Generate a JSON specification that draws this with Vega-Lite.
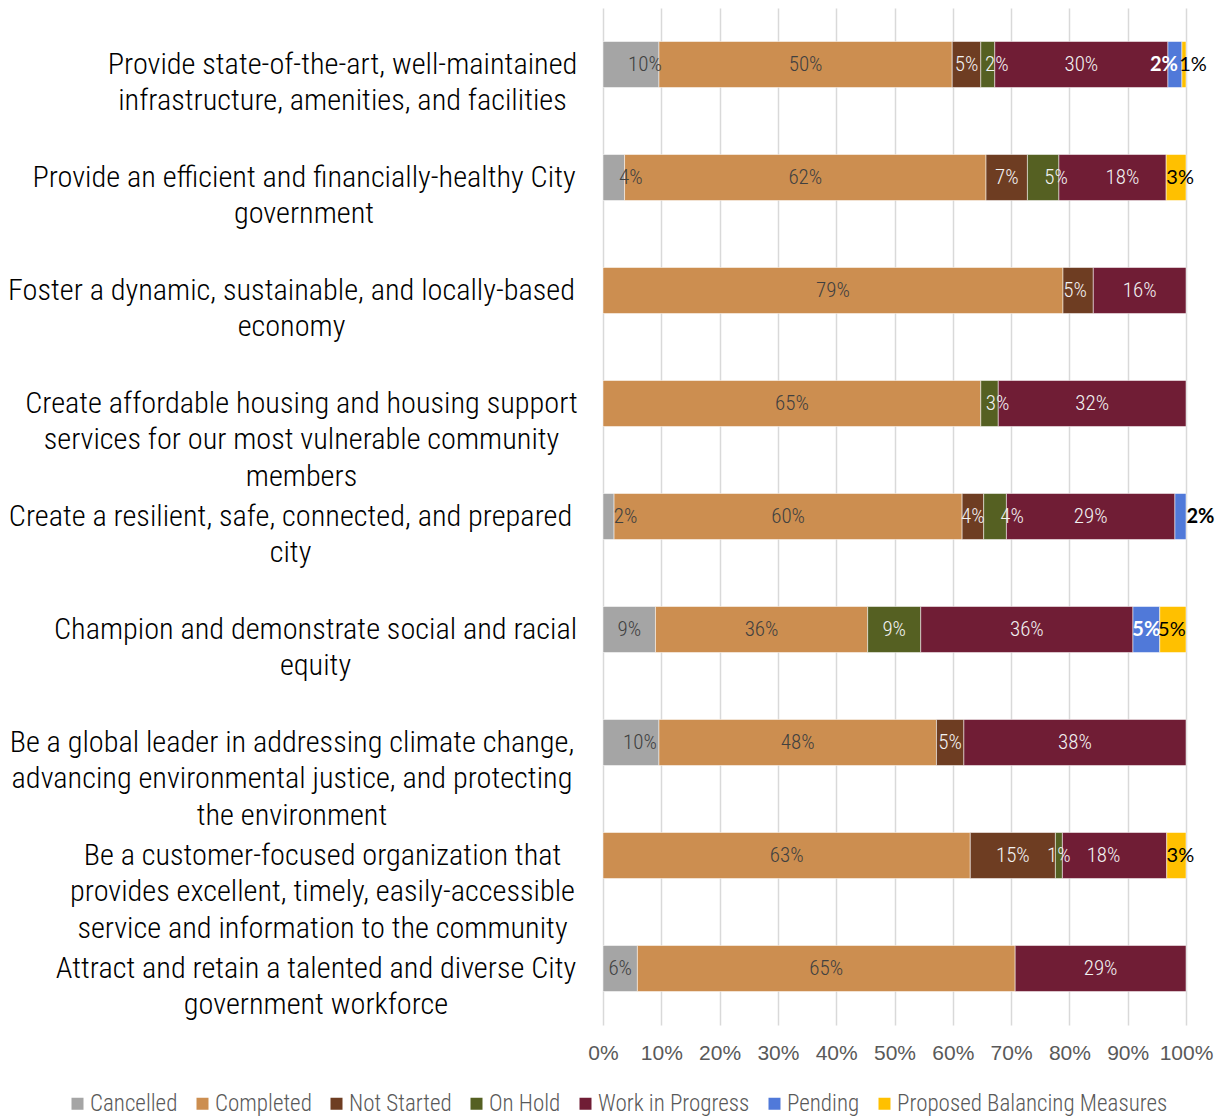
{
  "$schema": "https://vega.github.io/schema/vega-lite/v6.json",
  "width": 583,
  "height": 1017,
  "autosize": {"type": "none"},
  "padding": {"left": 603, "top": 8, "right": 40, "bottom": 93},
  "background": "white",
  "config": {"view": {"stroke": null}, "font": "Roboto Condensed"},
  "data": {
    "values": [
      {"goal": "Provide state-of-the-art, well-maintained\ninfrastructure, amenities, and facilities", "status": "Cancelled", "share": 0.096},
      {"goal": "Provide state-of-the-art, well-maintained\ninfrastructure, amenities, and facilities", "status": "Completed", "share": 0.503},
      {"goal": "Provide state-of-the-art, well-maintained\ninfrastructure, amenities, and facilities", "status": "Not Started", "share": 0.049},
      {"goal": "Provide state-of-the-art, well-maintained\ninfrastructure, amenities, and facilities", "status": "On Hold", "share": 0.024},
      {"goal": "Provide state-of-the-art, well-maintained\ninfrastructure, amenities, and facilities", "status": "Work in Progress", "share": 0.297},
      {"goal": "Provide state-of-the-art, well-maintained\ninfrastructure, amenities, and facilities", "status": "Pending", "share": 0.024},
      {"goal": "Provide state-of-the-art, well-maintained\ninfrastructure, amenities, and facilities", "status": "Proposed Balancing Measures", "share": 0.007},
      {"goal": "Provide an efficient and financially-healthy City\ngovernment", "status": "Cancelled", "share": 0.037},
      {"goal": "Provide an efficient and financially-healthy City\ngovernment", "status": "Completed", "share": 0.620},
      {"goal": "Provide an efficient and financially-healthy City\ngovernment", "status": "Not Started", "share": 0.071},
      {"goal": "Provide an efficient and financially-healthy City\ngovernment", "status": "On Hold", "share": 0.054},
      {"goal": "Provide an efficient and financially-healthy City\ngovernment", "status": "Work in Progress", "share": 0.184},
      {"goal": "Provide an efficient and financially-healthy City\ngovernment", "status": "Proposed Balancing Measures", "share": 0.034},
      {"goal": "Foster a dynamic, sustainable, and locally-based\neconomy", "status": "Completed", "share": 0.789},
      {"goal": "Foster a dynamic, sustainable, and locally-based\neconomy", "status": "Not Started", "share": 0.052},
      {"goal": "Foster a dynamic, sustainable, and locally-based\neconomy", "status": "Work in Progress", "share": 0.159},
      {"goal": "Create affordable housing and housing support\nservices for our most vulnerable community\nmembers", "status": "Completed", "share": 0.648},
      {"goal": "Create affordable housing and housing support\nservices for our most vulnerable community\nmembers", "status": "On Hold", "share": 0.030},
      {"goal": "Create affordable housing and housing support\nservices for our most vulnerable community\nmembers", "status": "Work in Progress", "share": 0.322},
      {"goal": "Create a resilient, safe, connected, and prepared\ncity", "status": "Cancelled", "share": 0.019},
      {"goal": "Create a resilient, safe, connected, and prepared\ncity", "status": "Completed", "share": 0.597},
      {"goal": "Create a resilient, safe, connected, and prepared\ncity", "status": "Not Started", "share": 0.037},
      {"goal": "Create a resilient, safe, connected, and prepared\ncity", "status": "On Hold", "share": 0.039},
      {"goal": "Create a resilient, safe, connected, and prepared\ncity", "status": "Work in Progress", "share": 0.289},
      {"goal": "Create a resilient, safe, connected, and prepared\ncity", "status": "Pending", "share": 0.019},
      {"goal": "Champion and demonstrate social and racial\nequity", "status": "Cancelled", "share": 0.090},
      {"goal": "Champion and demonstrate social and racial\nequity", "status": "Completed", "share": 0.364},
      {"goal": "Champion and demonstrate social and racial\nequity", "status": "On Hold", "share": 0.091},
      {"goal": "Champion and demonstrate social and racial\nequity", "status": "Work in Progress", "share": 0.364},
      {"goal": "Champion and demonstrate social and racial\nequity", "status": "Pending", "share": 0.046},
      {"goal": "Champion and demonstrate social and racial\nequity", "status": "Proposed Balancing Measures", "share": 0.045},
      {"goal": "Be a global leader in addressing climate change,\nadvancing environmental justice, and protecting\nthe environment", "status": "Cancelled", "share": 0.096},
      {"goal": "Be a global leader in addressing climate change,\nadvancing environmental justice, and protecting\nthe environment", "status": "Completed", "share": 0.476},
      {"goal": "Be a global leader in addressing climate change,\nadvancing environmental justice, and protecting\nthe environment", "status": "Not Started", "share": 0.047},
      {"goal": "Be a global leader in addressing climate change,\nadvancing environmental justice, and protecting\nthe environment", "status": "Work in Progress", "share": 0.381},
      {"goal": "Be a customer-focused organization that\nprovides excellent, timely, easily-accessible\nservice and information to the community", "status": "Completed", "share": 0.630},
      {"goal": "Be a customer-focused organization that\nprovides excellent, timely, easily-accessible\nservice and information to the community", "status": "Not Started", "share": 0.146},
      {"goal": "Be a customer-focused organization that\nprovides excellent, timely, easily-accessible\nservice and information to the community", "status": "On Hold", "share": 0.012},
      {"goal": "Be a customer-focused organization that\nprovides excellent, timely, easily-accessible\nservice and information to the community", "status": "Work in Progress", "share": 0.179},
      {"goal": "Be a customer-focused organization that\nprovides excellent, timely, easily-accessible\nservice and information to the community", "status": "Proposed Balancing Measures", "share": 0.033},
      {"goal": "Attract and retain a talented and diverse City\ngovernment workforce", "status": "Cancelled", "share": 0.059},
      {"goal": "Attract and retain a talented and diverse City\ngovernment workforce", "status": "Completed", "share": 0.648},
      {"goal": "Attract and retain a talented and diverse City\ngovernment workforce", "status": "Work in Progress", "share": 0.293}
    ]
  },
  "transform": [
    {"calculate": "indexof(['Cancelled','Completed','Not Started','On Hold','Work in Progress','Pending','Proposed Balancing Measures'], datum.status)", "as": "ord"},
    {"stack": "share", "groupby": ["goal"], "sort": [{"field": "ord", "order": "ascending"}], "as": ["s0", "s1"]},
    {"calculate": "(datum.s0 + datum.s1) / 2", "as": "mid"}
  ],
  "encoding": {
    "y": {
      "field": "goal",
      "type": "nominal",
      "sort": [
        "Provide state-of-the-art, well-maintained\ninfrastructure, amenities, and facilities",
        "Provide an efficient and financially-healthy City\ngovernment",
        "Foster a dynamic, sustainable, and locally-based\neconomy",
        "Create affordable housing and housing support\nservices for our most vulnerable community\nmembers",
        "Create a resilient, safe, connected, and prepared\ncity",
        "Champion and demonstrate social and racial\nequity",
        "Be a global leader in addressing climate change,\nadvancing environmental justice, and protecting\nthe environment",
        "Be a customer-focused organization that\nprovides excellent, timely, easily-accessible\nservice and information to the community",
        "Attract and retain a talented and diverse City\ngovernment workforce"
      ],
      "scale": {"paddingInner": 0.593, "paddingOuter": 0.2965},
      "axis": {
        "title": null,
        "domain": false,
        "ticks": false,
        "labelExpr": "split(datum.label, '\\n')",
        "labelFont": "Roboto Condensed",
        "labelFontWeight": 300,
        "labelFontSize": 30.3,
        "labelColor": "#000000",
        "labelAlign": "center",
        "labelBaseline": "middle",
        "labelLineHeight": 36.5,
        "labelLimit": 0,
        "labelPadding": {"expr": "[261, 299.5, 312, 302, 313, 288, 311.5, 281, 287.5][indexof(domain('y'), datum.value)]"}
      }
    }
  },
  "layer": [
    {
      "mark": {"type": "bar", "stroke": "#ffffff", "strokeWidth": 1, "strokeOpacity": 0.5},
      "encoding": {
        "x": {
          "field": "s0",
          "type": "quantitative",
          "scale": {"domain": [0, 1], "nice": false},
          "axis": {
            "title": null,
            "format": ".0%",
            "values": [0, 0.1, 0.2, 0.3, 0.4, 0.5, 0.6, 0.7, 0.8, 0.9, 1],
            "grid": true,
            "gridColor": "#D9D9D9",
            "gridWidth": 1.5,
            "domain": false,
            "ticks": false,
            "labelFont": "Liberation Sans",
            "labelFontSize": 21,
            "labelColor": "#595959",
            "labelPadding": 17,
            "labelFlush": false
          }
        },
        "x2": {"field": "s1"},
        "color": {
          "field": "status",
          "type": "nominal",
          "scale": {
            "domain": ["Cancelled", "Completed", "Not Started", "On Hold", "Work in Progress", "Pending", "Proposed Balancing Measures"],
            "range": ["#A5A5A5", "#CC8E50", "#6E3D22", "#556022", "#701D35", "#5079D9", "#FFC000"]
          },
          "legend": {
            "orient": "none",
            "legendX": -537,
            "legendY": 1084,
            "direction": "horizontal",
            "columns": 7,
            "title": null,
            "symbolType": "square",
            "symbolSize": 144,
            "symbolStrokeWidth": 0,
            "labelFont": "Roboto Condensed",
            "labelFontWeight": 300,
            "labelFontSize": 23,
            "labelColor": "#595959",
            "labelOffset": 1,
            "columnPadding": 13,
            "labelLimit": 0
          }
        }
      }
    },
    {
      "transform": [{"filter": "datum.status != 'Pending' && datum.status != 'Proposed Balancing Measures'"}],
      "mark": {
        "type": "text", "font": "Roboto Condensed", "fontWeight": 300, "fontSize": 21, "baseline": "middle", "align": "center",
        "dx": {"expr": "(indexof(datum.goal,'Provide state')==0 && datum.status=='Cancelled') ? 14 : (indexof(datum.goal,'Provide state')==0 && datum.status=='On Hold') ? 9 : (indexof(datum.goal,'Provide an')==0 && datum.status=='Cancelled') ? 17 : (indexof(datum.goal,'Provide an')==0 && datum.status=='On Hold') ? 13 : (indexof(datum.goal,'Provide an')==0 && datum.status=='Work in Progress') ? 10 : (indexof(datum.goal,'Foster')==0 && datum.status=='Not Started') ? -3 : (indexof(datum.goal,'Create affordable')==0 && datum.status=='On Hold') ? 8 : (indexof(datum.goal,'Create a resilient')==0 && datum.status=='Cancelled') ? 17 : (indexof(datum.goal,'Create a resilient')==0 && datum.status=='On Hold') ? 17 : (indexof(datum.goal,'Be a global')==0 && datum.status=='Cancelled') ? 9 : (indexof(datum.goal,'Be a customer')==0 && datum.status=='Work in Progress') ? -11 : 0"}
      },
      "encoding": {
        "x": {"field": "mid", "type": "quantitative"},
        "text": {"field": "share", "type": "quantitative", "format": ".0%"},
        "color": {
          "condition": {"test": "datum.status == 'Cancelled' || datum.status == 'Completed'", "value": "#404040"},
          "value": "#F2F2F2"
        }
      }
    },
    {
      "transform": [{"filter": "datum.status == 'Pending'"}],
      "mark": {
        "type": "text", "font": "Lato", "fontSize": 20, "fontWeight": "bold", "baseline": "middle", "align": "center",
        "dx": {"expr": "indexof(datum.goal, 'Provide state') == 0 ? -11 : (indexof(datum.goal, 'Create a resilient') == 0 ? 20 : 0)"}
      },
      "encoding": {
        "x": {"field": "mid", "type": "quantitative"},
        "text": {"field": "share", "type": "quantitative", "format": ".0%"},
        "color": {
          "condition": {"test": "indexof(datum.goal, 'Create a resilient') == 0", "value": "#000000"},
          "value": "#FFFFFF"
        }
      }
    },
    {
      "transform": [{"filter": "datum.status == 'Proposed Balancing Measures'"}],
      "mark": {
        "type": "text", "font": "Lato", "fontSize": 20, "baseline": "middle", "align": "center", "color": "#000000",
        "dx": {"expr": "indexof(datum.goal, 'Provide state') == 0 ? 9 : (indexof(datum.goal, 'Champion') == 0 ? -1 : 4)"}
      },
      "encoding": {
        "x": {"field": "mid", "type": "quantitative"},
        "text": {"field": "share", "type": "quantitative", "format": ".0%"}
      }
    }
  ]
}
